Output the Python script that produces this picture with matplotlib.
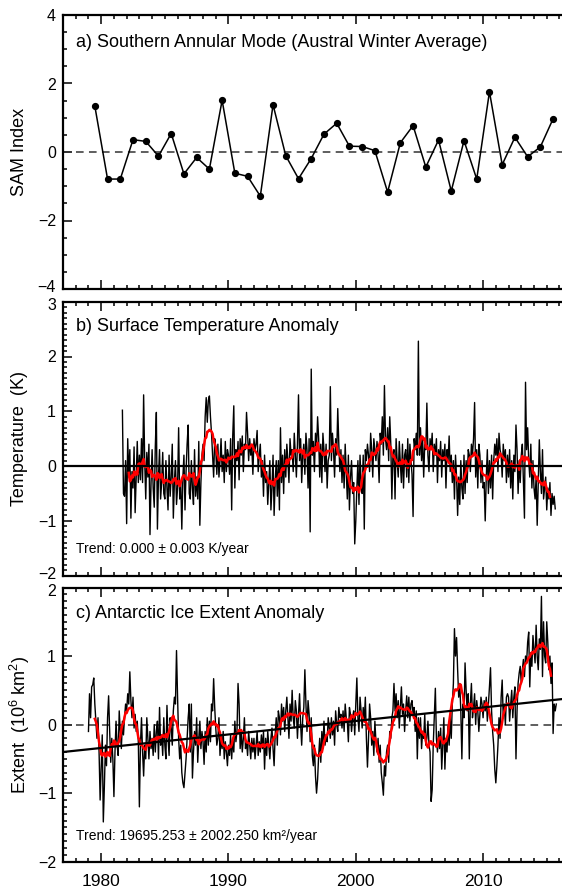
import numpy as np
import pandas as pd
import matplotlib
matplotlib.use("Agg")
import matplotlib.pyplot as plt
import matplotlib.transforms as mtransforms
from matplotlib import font_manager as fm
from matplotlib.ticker import MultipleLocator

# ---------------- data ----------------
sam_years = np.arange(1979, 2016)
sam_values = [1.34, -0.79, -0.79, 0.36, 0.31, -0.12, 0.54, -0.64, -0.16, -0.50,
              1.51, -0.62, -0.71, -1.29, 1.38, -0.11, -0.78, -0.19, 0.52, 0.84,
              0.17, 0.16, 0.04, -1.17, 0.27, 0.77, -0.44, 0.35, -1.14, 0.33,
              -0.79, 1.76, -0.37, 0.43, -0.14, 0.15, 0.97]

temp_start = (1981, 9)   # first month of temperature series
temp_monthly = [
    1.02, -0.50, -0.55, 0.10,                                                      # 1981 Sep-Dec
    -1.05, 0.50, -0.20, 0.30, -0.95, -0.10, -0.40, 0.35, -0.85, -0.20, 0.45, -0.30,  # 1982
    0.20, -0.25, 0.50, -0.30, 1.30, 0.10, -0.60, 0.25, -0.20, 0.40, -1.25, -0.30,    # 1983
    0.30, -0.40, -0.75, 0.35, 0.98, -1.15, -0.20, 0.30, -0.60, -0.30, 0.25, -0.50,   # 1984
    -0.60, 0.10, -0.40, -0.80, 0.20, -0.55, -0.20, 0.40, -0.95, -0.30, 0.10, -0.70,  # 1985
    -0.40, 0.70, -0.60, -0.30, -1.15, -0.20, 0.20, -0.80, -0.10, 0.40, 0.75, -0.50,  # 1986
    -0.60, 0.10, -0.40, -0.70, 0.30, -0.55, -0.20, -0.60, 0.45, -1.08, -0.30, 0.20,  # 1987
    0.40, 0.10, 0.90, 1.25, 0.80, 1.20, 1.28, 0.90, 0.60, 0.20, -0.20, 0.50,         # 1988
    0.30, -0.15, 0.40, -0.20, 0.10, 0.50, -0.10, 0.20, -0.30, 0.45, -0.10, 0.30,     # 1989
    0.20, -0.15, 0.50, -0.80, 0.55, 1.10, -0.40, 0.30, 0.10, 0.45, -0.25, 0.50,      # 1990
    0.20, 0.55, -0.10, 0.40, 0.30, 0.98, 0.60, 0.10, 0.50, 0.20, 0.35, -0.15,        # 1991
    0.50, 0.30, 0.40, 0.65, -0.10, 0.20, 0.40, -0.20, 0.10, -0.55, 0.20, -0.30,      # 1992
    -0.10, -0.70, -0.30, 0.10, -0.80, -0.40, 0.20, -0.90, -0.30, 0.10, -0.55, 0.10,  # 1993
    -0.80, 0.70, -0.30, 0.20, -0.50, 0.30, -0.20, 0.40, 0.10, -0.30, 0.50, 0.20,     # 1994
    0.30, -0.10, 0.60, 0.20, -0.20, 0.40, 1.30, 0.10, 0.50, -0.30, 0.20, 0.40,       # 1995
    -0.15, 0.60, 0.30, -0.40, 0.50, -1.20, 1.77, 0.20, 0.45, -0.10, 0.60, 0.30,      # 1996
    0.90, 0.50, -0.20, 0.40, -0.30, 0.60, 0.30, -0.10, 0.40, -0.40, 0.10, 0.20,      # 1997
    1.45, 0.10, 0.60, 0.30, -0.20, 0.50, 0.20, 1.05, 0.40, -0.10, 0.30, -0.30,       # 1998
    0.20, -0.40, 0.40, -0.10, -0.60, 0.20, -0.80, -0.20, 0.10, -0.50, -0.30, -1.42,  # 1999
    -1.00, -0.40, 0.10, -0.70, 0.20, -0.30, -0.50, 0.20, -1.15, 0.30, 0.10, 0.40,    # 2000
    0.20, -0.10, 0.60, 0.30, -0.20, 0.50, 0.30, 0.10, 0.45, 0.20, -0.30, 0.60,       # 2001
    0.40, 0.90, 0.20, 1.47, 0.50, 0.30, 0.70, 0.10, 0.90, 0.40, -0.60, 0.20,         # 2002
    0.30, -0.60, 0.50, 0.10, -0.20, 0.45, 0.05, -0.30, 0.40, -0.40, 0.20, 0.30,      # 2003
    -0.20, 0.50, -0.30, 0.40, 0.10, -0.15, -0.92, 0.50, 0.30, 0.60, 0.20, 2.28,      # 2004
    0.20, 0.70, 0.10, 0.50, -0.20, 0.40, 0.30, 1.15, 0.20, -0.10, 0.50, 0.30,        # 2005
    0.60, -0.10, 0.40, 0.20, 0.50, -0.30, 0.30, 0.10, 0.45, -0.20, 0.30, 0.10,       # 2006
    0.40, -0.40, 0.30, 0.10, 0.55, -0.10, 0.20, -0.30, 0.10, -0.60, 0.20, -0.20,     # 2007
    -0.90, -0.20, -0.70, 0.10, -0.40, -0.60, 0.20, -0.50, 0.10, -0.30, 0.30, 0.20,   # 2008
    -0.10, 0.40, 0.20, 0.50, 1.16, -0.20, 0.30, -0.40, 0.40, 0.20, -0.30, 0.10,      # 2009
    -0.40, -0.30, -1.00, -0.20, 0.30, -0.50, 0.10, -0.40, 0.20, -0.60, 0.10, 0.40,   # 2010
    0.20, 0.50, -0.10, 0.60, 0.30, 0.20, -0.20, 0.40, 0.10, 0.30, -0.30, 0.20,       # 2011
    -0.20, 0.30, -0.40, 0.10, -0.60, 0.20, -0.10, 0.75, 0.30, -0.50, 0.10, -0.30,    # 2012
    0.20, 0.40, -0.30, -0.95, 1.53, 0.30, 0.70, 0.10, -0.20, 0.40, -0.40, 0.10,      # 2013
    -0.40, -0.60, -0.20, -1.08, -0.30, 0.48, -0.10, -0.50, 0.30, -0.60, -0.40, -0.20,  # 2014
    -0.80, -0.40, -0.60, -0.30, -0.90, -0.50, -0.70, -0.55, -0.78,                 # 2015 Jan-Sep
]
temp_trend_slope = 0.000      # K / year
temp_trend_level = 0.0

ice_start = (1979, 1)
ice_monthly = [
    -0.10, 0.45, 0.10, 0.55, 0.58, 0.68, 0.30, 0.05, -0.20, 0.10, -0.40, -1.10,    # 1979
    -0.60, -0.15, -1.42, -0.90, -0.30, -0.60, 0.10, 0.42, -0.10, -0.55, -0.20, -0.50,  # 1980
    -1.05, -0.40, 0.05, -0.30, -0.45, 0.20, -0.10, -0.35, 0.05, -0.15, 0.10, 0.30,  # 1981
    0.20, 0.45, 0.30, 0.77, 0.35, 0.10, 0.40, -0.05, 0.15, -0.10, 0.05, -0.25,      # 1982
    -1.20, -0.30, 0.10, -0.40, -0.75, -0.30, -0.50, 0.10, -0.20, -0.50, -0.10, -0.35,  # 1983
    -0.20, -0.45, 0.00, -0.40, -0.10, 0.05, -0.50, 0.25, -0.30, -0.15, -0.45, 0.10,  # 1984
    -0.30, -0.50, 0.28, -0.20, -0.45, 0.10, -0.05, -0.30, 0.20, 0.40, 0.30, 1.08,   # 1985
    0.40, -0.20, -0.50, -0.30, -0.70, -0.85, -0.92, -0.70, -0.50, -0.20, 0.10, 0.30,  # 1986
    -0.40, 0.30, -0.78, -0.40, -0.10, -0.30, 0.10, -0.55, -0.20, 0.05, -0.35, -0.10,  # 1987
    -0.25, -0.58, -0.10, -0.40, 0.10, -0.30, 0.05, -0.25, 0.30, 0.20, 0.67, 0.25,   # 1988
    -0.05, -0.30, -0.20, 0.10, -0.45, -0.20, -0.35, -0.10, -0.50, -0.25, -0.40, -0.60,  # 1989
    -0.30, -0.45, -0.15, -0.50, -0.20, -0.40, 0.05, -0.25, -0.10, 0.60, 0.30, -0.35,  # 1990
    -0.10, -0.40, -0.20, 0.10, -0.35, -0.25, -0.45, -0.10, -0.30, -0.50, -0.20, -0.40,  # 1991
    -0.20, -0.50, -0.30, -0.10, -0.45, -0.25, -0.40, -0.15, -0.35, -0.10, -0.65, -0.20,  # 1992
    -0.45, -0.10, -0.30, -0.50, -0.20, -0.05, -0.35, -0.60, -0.15, 0.10, -0.30, 0.20,  # 1993
    0.10, -0.15, 0.30, 0.05, 0.25, -0.10, 0.20, 0.40, 0.10, -0.20, 0.30, 0.05,      # 1994
    0.50, 0.10, -0.05, 0.35, 0.20, -0.20, 0.15, 0.45, 0.00, -0.30, 0.10, 0.25,      # 1995
    0.80, 0.30, -0.10, 0.35, 0.15, -0.25, 0.10, -0.45, -0.60, -0.30, -0.75, -1.00,  # 1996
    -0.80, -0.45, -0.20, -0.55, -0.10, -0.35, 0.05, -0.30, -0.15, -0.25, 0.10, -0.05,  # 1997
    -0.20, 0.10, -0.15, 0.05, -0.30, 0.20, 0.00, -0.10, 0.25, 0.10, 0.15, -0.05,    # 1998
    0.20, -0.10, 0.30, 0.10, 0.05, -0.25, 0.25, 0.15, -0.10, 0.10, 0.20, -0.15,     # 1999
    0.30, 0.68, 0.10, -0.10, 0.40, 0.20, -0.05, 0.25, 0.05, 0.40, -0.20, -0.62,     # 2000
    -0.20, 0.30, 0.10, -0.30, -0.10, -0.45, 0.05, -0.25, -0.40, -0.20, -0.55, -0.30,  # 2001
    -0.70, -0.85, -1.03, -0.60, -0.75, -0.40, -0.30, -0.55, -0.10, -0.20, 0.10, 0.20,  # 2002
    0.60, 0.20, 0.45, 0.10, 0.35, -0.05, 0.25, 0.55, 0.15, 0.30, -0.10, 0.20,       # 2003
    0.42, 0.10, 0.40, 0.05, 0.30, 0.35, 0.15, 0.25, -0.10, 0.20, -0.50, 0.10,       # 2004
    -0.20, 0.10, -0.35, -0.10, -0.20, 0.15, -0.30, -0.20, 0.05, -0.30, -0.40, -1.12,  # 2005
    -0.95, -0.30, 0.10, 0.53, -0.20, -0.40, -0.10, -0.35, -0.05, -0.65, -0.30, 0.10,  # 2006
    -0.65, -0.20, -0.40, 0.00, -0.30, 0.10, -0.20, 0.30, 0.60, 1.40, 1.00, 1.27,    # 2007
    0.80, 0.40, 0.60, 0.20, -0.50, 0.30, 0.10, 0.90, 0.50, 0.20, 0.45, -0.50,       # 2008
    0.30, 0.60, 0.10, 0.25, 0.45, 0.00, 0.35, 0.20, -0.10, 0.15, 0.40, 0.30,        # 2009
    0.10, 0.35, 0.20, 0.40, 0.05, 0.30, 0.55, 0.83, 0.20, -0.10, -0.30, -0.65,      # 2010
    -0.85, -0.60, -0.30, 0.10, -0.20, 0.40, 0.65, 0.10, 0.30, 0.00, 0.40, 0.45,     # 2011
    0.40, 0.05, 0.30, 0.50, 0.10, 0.40, 0.55, -0.50, 0.20, 0.60, 0.75, 0.85,        # 2012
    0.60, 0.80, 0.95, 0.70, 1.00, 0.90, 1.20, 1.35, 0.55, 1.05, 0.85, 1.30,         # 2013
    1.10, 0.90, 1.45, 1.00, 0.80, 1.25, 1.10, 1.87, 0.70, 1.50, 1.00, 0.90,         # 2014
    1.50, 1.20, 0.80, 1.00, 0.60, 0.90, -0.13, 0.30, 0.20, 0.30,                    # 2015 Jan-Oct
]
ice_trend_slope = 0.019695    # 10^6 km^2 / year
ice_trend_zero_year = 1997.3

panel_titles = ["a) Southern Annular Mode (Austral Winter Average)",
                "b) Surface Temperature Anomaly",
                "c) Antarctic Ice Extent Anomaly"]
trend_texts = ["Trend: 0.000 \u00b1 0.003 K/year",
               "Trend: 19695.253 \u00b1 2002.250 km\u00b2/year"]
ylabels = ["SAM Index", "Temperature  (K)", "Extent  (10$^{6}$ km$^{2}$)"]
xticks = [1980, 1990, 2000, 2010]

# ---------------- fonts ----------------
avail = {f.name for f in fm.fontManager.ttflist}
FONT = "DejaVu Sans"
for cand in ["Liberation Sans Narrow", "Liberation Sans"]:
    if cand in avail:
        FONT = cand
        break
plt.rcParams["font.family"] = [FONT, "DejaVu Sans"]
plt.rcParams["mathtext.fontset"] = "custom"
plt.rcParams["mathtext.rm"] = FONT
plt.rcParams["mathtext.default"] = "regular"


def monthly_times(start, n):
    y, m = start
    return y + (m - 1) / 12.0 + np.arange(n) / 12.0


t_temp = monthly_times(temp_start, len(temp_monthly))
t_ice = monthly_times(ice_start, len(ice_monthly))
temp_smooth = pd.Series(temp_monthly).rolling(12, center=True).mean().to_numpy()
ice_smooth = pd.Series(ice_monthly).rolling(12, center=True).mean().to_numpy()

# ---------------- figure ----------------
W, H = 562, 890
fig = plt.figure(figsize=(W / 100, H / 100), dpi=100)
left_px, px_per_year = 63.0, 12.73
x0, x1 = 1977, 2017
width_px = (x1 - x0) * px_per_year


def make_ax(top_px, bottom_px):
    return fig.add_axes([left_px / W, (H - bottom_px) / H, width_px / W,
                         (bottom_px - top_px) / H])


axa = make_ax(15.0, 289.0)
axb = make_ax(301.7, 575.7)
axc = make_ax(587.5, 861.7)

for ax in (axa, axb, axc):
    ax.set_xlim(x0, x1)
    ax.xaxis.set_major_locator(MultipleLocator(10))
    ax.xaxis.set_minor_locator(MultipleLocator(1))
    ax.tick_params(which="both", direction="in", top=True, right=True,
                   width=1.1, pad=5)
    ax.tick_params(axis="x", labelsize=12.5)
    ax.tick_params(axis="y", labelsize=11.5)
    ax.tick_params(which="major", length=6.5)
    ax.tick_params(which="minor", length=3.2)
    for s in ax.spines.values():
        s.set_linewidth(1.6)
    ax.set_xticks(xticks)

axa.tick_params(labelbottom=False)
axb.tick_params(labelbottom=False)
axc.tick_params(axis="x", pad=9)

# panel a
axa.set_ylim(-4, 4)
axa.yaxis.set_major_locator(MultipleLocator(2))
axa.yaxis.set_minor_locator(MultipleLocator(0.5))
axa.axhline(0, color="#333333", lw=1.1, ls=(0, (5, 3.5)))
axa.plot(sam_years + 0.5, sam_values, color="black", lw=1.1, marker="o",
         ms=4.2, mfc="black", mec="black")

# panel b
axb.set_ylim(-2, 3)
axb.yaxis.set_major_locator(MultipleLocator(1))
axb.yaxis.set_minor_locator(MultipleLocator(0.1))
axb.plot(t_temp, temp_monthly, color="black", lw=1.0)
axb.plot(t_temp, temp_smooth, color="#ff0000", lw=1.8)
xx = np.array([x0, x1])
axb.plot(xx, temp_trend_level + temp_trend_slope * (xx - 1998), color="black", lw=1.6)

# panel c
axc.set_ylim(-2, 2)
axc.yaxis.set_major_locator(MultipleLocator(1))
axc.yaxis.set_minor_locator(MultipleLocator(0.1))
axc.axhline(0, color="#333333", lw=1.1, ls=(0, (5, 3.5)))
axc.plot(t_ice, ice_monthly, color="black", lw=1.0)
axc.plot(t_ice, ice_smooth, color="#ff0000", lw=1.8)
axc.plot(xx, ice_trend_slope * (xx - ice_trend_zero_year), color="black", lw=1.6)

# texts
for ax, title, yt in zip((axa, axb, axc), panel_titles, (0.901, 0.908, 0.907)):
    ax.text(0.025, yt, title, transform=ax.transAxes, fontsize=13,
            ha="left", va="center")
axb.text(0.025, 0.0974, trend_texts[0], transform=axb.transAxes, fontsize=10,
         ha="left", va="center")
axc.text(0.025, 0.093, trend_texts[1], transform=axc.transAxes, fontsize=10,
         ha="left", va="center")

for ax, lab in zip((axa, axb, axc), ylabels):
    pos = ax.get_position()
    fig.text(20 / W, pos.y0 + pos.height / 2, lab, rotation=90, fontsize=13,
             ha="center", va="center")

# nudge the y tick labels that sit at the shared panel boundaries apart a little
fig.canvas.draw()


def nudge(ax, value, dy_px):
    for tick in ax.yaxis.get_major_ticks():
        if abs(tick.get_loc() - value) < 1e-9:
            lab = tick.label1
            lab.set_transform(lab.get_transform() + mtransforms.ScaledTranslation(
                0, dy_px / 100.0, fig.dpi_scale_trans))


nudge(axa, -4, 2.5)
nudge(axb, 3, -2.5)
nudge(axb, -2, 2.5)
nudge(axc, 2, -2.5)

fig.savefig("out.png", dpi=100)
